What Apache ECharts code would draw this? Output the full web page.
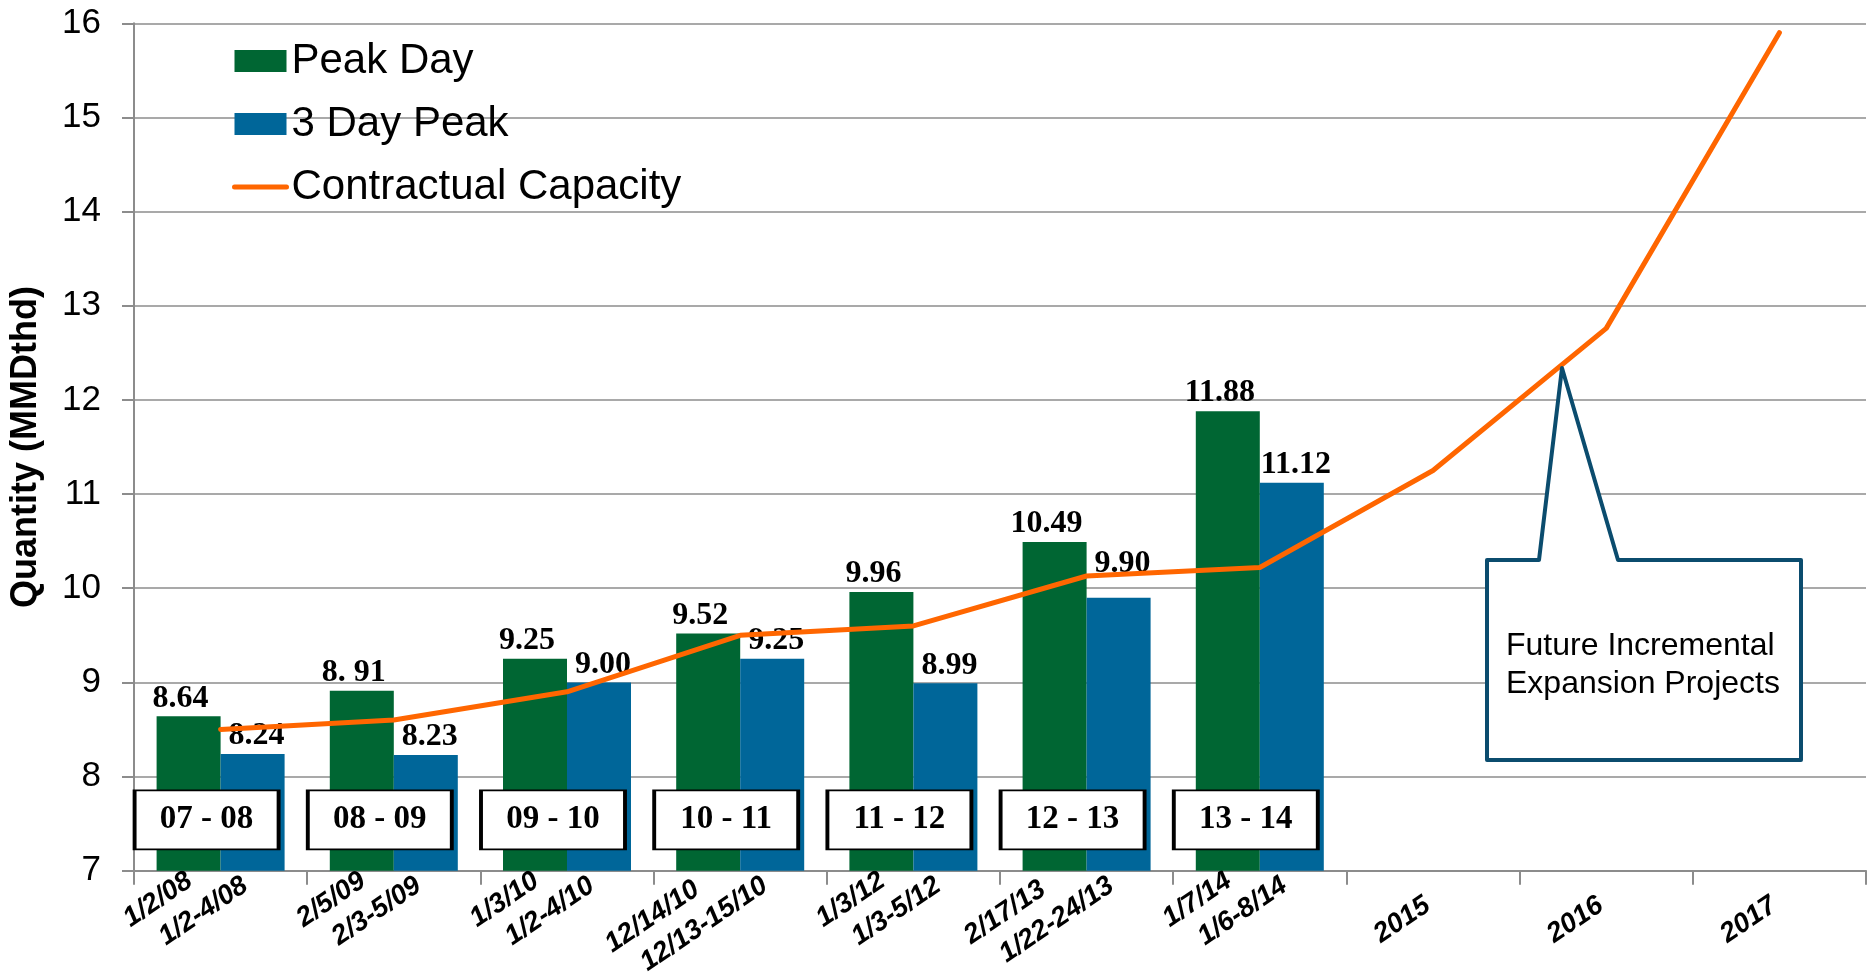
<!DOCTYPE html>
<html><head><meta charset="utf-8">
<script src="https://cdn.jsdelivr.net/npm/echarts@6/dist/echarts.min.js"></script>
<style>html,body{margin:0;padding:0;background:#fff}#c{width:1870px;height:975px}</style>
</head><body><div id="c"></div>
<script>
// ---- data ----
const dateLine1 = ['1/2/08','2/5/09','1/3/10','12/14/10','1/3/12','2/17/13','1/7/14','2015','2016','2017'];
const dateLine2 = ['1/2-4/08','2/3-5/09','1/2-4/10','12/13-15/10','1/3-5/12','1/22-24/13','1/6-8/14','','',''];
const seasons = ['07 - 08','08 - 09','09 - 10','10 - 11','11 - 12','12 - 13','13 - 14'];
const peakDay = [8.64, 8.91, 9.25, 9.52, 9.96, 10.49, 11.88, null, null, null];
const peakDayLabels = ['8.64','8. 91','9.25','9.52','9.96','10.49','11.88'];
const threeDayPeak = [8.24, 8.23, 9.00, 9.25, 8.99, 9.90, 11.12, null, null, null];
const threeDayLabels = ['8.24','8.23','9.00','9.25','8.99','9.90','11.12'];
const contractualCapacity = [8.50, 8.60, 8.90, 9.50, 9.60, 10.13, 10.22, 11.25, 12.76, 15.90];
const yMin = 7, yMax = 16, yStep = 1;
const calloutLines = ['Future Incremental', 'Expansion Projects'];
const seriesNames = ['Peak Day', '3 Day Peak', 'Contractual Capacity'];

// ---- styling ----
const SANS = '"Liberation Sans", Arial, sans-serif';
const SERIF = '"Liberation Serif", "Times New Roman", serif';
const GREEN = '#006633', BLUE = '#006699', ORANGE = '#FF6600', GRID = '#8c8c8c';
const categories = dateLine1.map((d, i) => dateLine2[i] ? d + '\n' + dateLine2[i] : d);
const seasonLevel = 7.54;
const XFS = 27.5;

const chart = echarts.init(document.getElementById('c'), null, {renderer: 'canvas'});

const barLabel = (texts, dx) => ({
  show: true, position: 'top', distance: 2, offset: [dx, 0],
  fontFamily: SERIF, fontWeight: 'bold', fontSize: 32, color: '#000',
  formatter: p => texts[p.dataIndex]
});

const threeDayData = threeDayPeak.map((v, i) => (i === 5 ? {value: v, label: {offset: [4, -16]}} : v));
const xRich = (extra) => Object.assign({
  fontFamily: SANS, fontWeight: 'bold', fontStyle: 'italic', fontSize: XFS, lineHeight: 35, color: '#000'
}, extra);

const option = {
  animation: false,
  grid: {left: 134, right: 4, top: 23.3, bottom: 104.3, containLabel: false, outerBoundsMode: 'none'},
  legend: {
    orient: 'vertical', left: 232, top: 40, padding: 0, itemGap: 21,
    itemWidth: 52, itemHeight: 22,
    textStyle: {fontFamily: SANS, fontSize: 42, color: '#000'},
    data: [
      {name: seriesNames[0], icon: 'rect'},
      {name: seriesNames[1], icon: 'rect'},
      {name: seriesNames[2], itemStyle: {opacity: 0}, lineStyle: {width: 5, color: ORANGE, cap: 'round'}}
    ]
  },
  xAxis: {
    type: 'category', data: categories, boundaryGap: true,
    axisLine: {lineStyle: {color: GRID, width: 2}},
    axisTick: {show: true, length: 14, lineStyle: {color: GRID, width: 2}},
    axisLabel: {
      interval: 0, rotate: 34, margin: 8, color: '#000', hideOverlap: false,
      padding: [0, -18, 0, 0],
      fontFamily: SANS, fontWeight: 'bold', fontStyle: 'italic', fontSize: XFS,
      formatter: (val) => {
        const parts = val.split('\n');
        if (parts.length === 2) return '{a|' + parts[0] + '}\n{b|' + parts[1] + '}';
        return '{s|' + parts[0] + '}';
      },
      rich: {
        a: xRich({align: 'left'}),
        b: xRich({align: 'left', padding: [0, 0, 0, 19]}),
        s: xRich({padding: [34, 36, 0, 0]})
      }
    },
    splitLine: {show: false}
  },
  yAxis: {
    type: 'value', min: yMin, max: yMax, interval: yStep,
    name: 'Quantity (MMDthd)', nameLocation: 'middle', nameGap: 90,
    nameTextStyle: {fontFamily: SANS, fontWeight: 'bold', fontSize: 36, color: '#000'},
    axisLine: {show: true, lineStyle: {color: GRID, width: 2}},
    axisTick: {show: true, length: 12, lineStyle: {color: GRID, width: 2}},
    axisLabel: {margin: 33, fontFamily: SANS, fontSize: 35, color: '#000'},
    splitLine: {show: true, lineStyle: {color: GRID, width: 1.5}}
  },
  series: [
    {
      name: seriesNames[0], type: 'bar', data: peakDay, barWidth: 64, barGap: '0%',
      itemStyle: {color: GREEN}, label: barLabel(peakDayLabels, -8), z: 2
    },
    {
      name: seriesNames[1], type: 'bar', data: threeDayData, barWidth: 64, barGap: '0%',
      itemStyle: {color: BLUE}, label: barLabel(threeDayLabels, 4), z: 2
    },
    {
      name: seriesNames[2], type: 'line', data: contractualCapacity, symbol: 'none',
      lineStyle: {color: ORANGE, width: 5, cap: 'round', join: 'round'},
      itemStyle: {color: ORANGE}, z: 3
    },
    {
      name: 'seasons', type: 'scatter', data: seasons.map((s, i) => [i, seasonLevel]),
      symbol: 'rect', symbolSize: [144, 59], symbolOffset: [-14, 0],
      itemStyle: {color: '#fff', borderColor: '#000', borderWidth: 2.5, opacity: 1},
      label: {
        show: true, position: 'inside', formatter: p => seasons[p.dataIndex],
        fontFamily: SERIF, fontWeight: 'bold', fontSize: 33, color: '#000'
      },
      emphasis: {disabled: true}, silent: true, z: 4
    }
  ],
  graphic: [
    {
      type: 'polygon', z: 100,
      shape: {points: [[1487, 560], [1539, 560], [1562, 368], [1618, 560], [1801, 560], [1801, 760], [1487, 760]]},
      style: {fill: '#fff', stroke: '#0B4C6E', lineWidth: 4, lineJoin: 'round'}
    },
    {
      type: 'text', z: 101, x: 1506, y: 665,
      style: {text: calloutLines.join('\n'), font: '32px ' + SANS, fill: '#000', lineHeight: 38,
              align: 'left', verticalAlign: 'middle'}
    }
  ]
};
chart.setOption(option);
</script>
</body></html>
